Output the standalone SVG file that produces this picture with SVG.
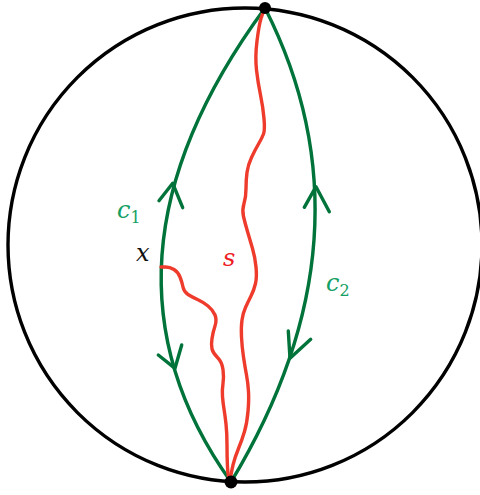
<svg xmlns="http://www.w3.org/2000/svg" width="480" height="495" viewBox="0 0 480 495">
<style>
.circ{fill:none;stroke:#000;stroke-width:3.4}
.g{fill:none;stroke:#00733A;stroke-width:3.4;stroke-linecap:round;stroke-linejoin:round}
.r{fill:none;stroke:#EE3B2B;stroke-width:3.4;stroke-linecap:round;stroke-linejoin:round}
</style>
<rect width="480" height="495" fill="#fff"/>
<g id="disk">
<circle class="circ" cx="245" cy="245" r="237"/>
</g>
<g id="connectors">
<g id="c1">
<path class="g" d="M265,8 Q76,265 231,482"/>
<polyline class="g" points="159,200.7 172.7,183.3 182.7,207.7"/>
<polyline class="g" points="158.3,355 175,368.3 181.7,345"/>
</g>
<g id="c2">
<path class="g" d="M265,8 Q380,235 231,482"/>
<polyline class="g" points="304.3,207.3 316,186.7 329.3,211.7"/>
<polyline class="g" points="288.3,331 290,358.3 310.7,339.3"/>
</g>
<g id="s">
<path class="r" d="M265,8 Q263,12 261,18.5 Q259,25 257,41 Q255,57 256.5,70 Q258,83 260.5,95 Q263,107 264,118.5 Q265,130 263.5,134 Q262,138 258.5,144 Q255,150 251.5,157.5 Q248,165 247,172.5 Q246,180 246,188.5 Q246,197 244,203.5 Q242,210 243.5,216.5 Q245,223 247.5,231.5 Q250,240 252.5,248.5 Q255,257 256,267 Q257,277 255.5,283.5 Q254,290 251,296 Q248,302 245.5,307.5 Q243,313 242,320 Q241,327 241.5,337 Q242,347 243.5,357 Q245,367 246.5,375 Q248,383 248.5,391.5 Q249,400 248,411.5 Q247,423 244.5,431.5 Q242,440 238.5,448.5 Q235,457 233,465 Q231,473 230,482"/>
<path class="r" d="M161,267 L165.5,267 Q170,267 174,269.5 Q178,272 180,277 Q182,282 183,287 Q184,292 188,294.5 Q192,297 197.5,299.5 Q203,302 208,306 Q213,310 215,315 Q217,320 215,326 Q213,332 212,338.5 Q211,345 212,349 Q213,353 217.5,357.5 Q222,362 223,369.5 Q224,377 223,383.5 Q222,390 222.5,396.5 Q223,403 224,409 Q225,415 226,424 Q227,433 227,445 Q227,457 227.5,467 Q228,477 230,482"/>
</g>
</g>
<g id="top-point"><circle cx="265" cy="8" r="6" fill="#000"/></g>
<g id="bottom-point"><circle cx="231" cy="482" r="6.5" fill="#000"/></g>
<g id="labels" font-family="'DejaVu Serif', 'Liberation Serif', serif" font-style="italic" font-size="24">
<text x="117" y="218" fill="#14A064">c<tspan font-style="normal" font-size="16" dy="5">1</tspan></text>
<text x="136" y="261" fill="#111">x</text>
<text x="223" y="266" fill="#EE1B24">s</text>
<text x="326" y="291" fill="#14A064">c<tspan font-style="normal" font-size="16" dy="5">2</tspan></text>
</g>
</svg>
